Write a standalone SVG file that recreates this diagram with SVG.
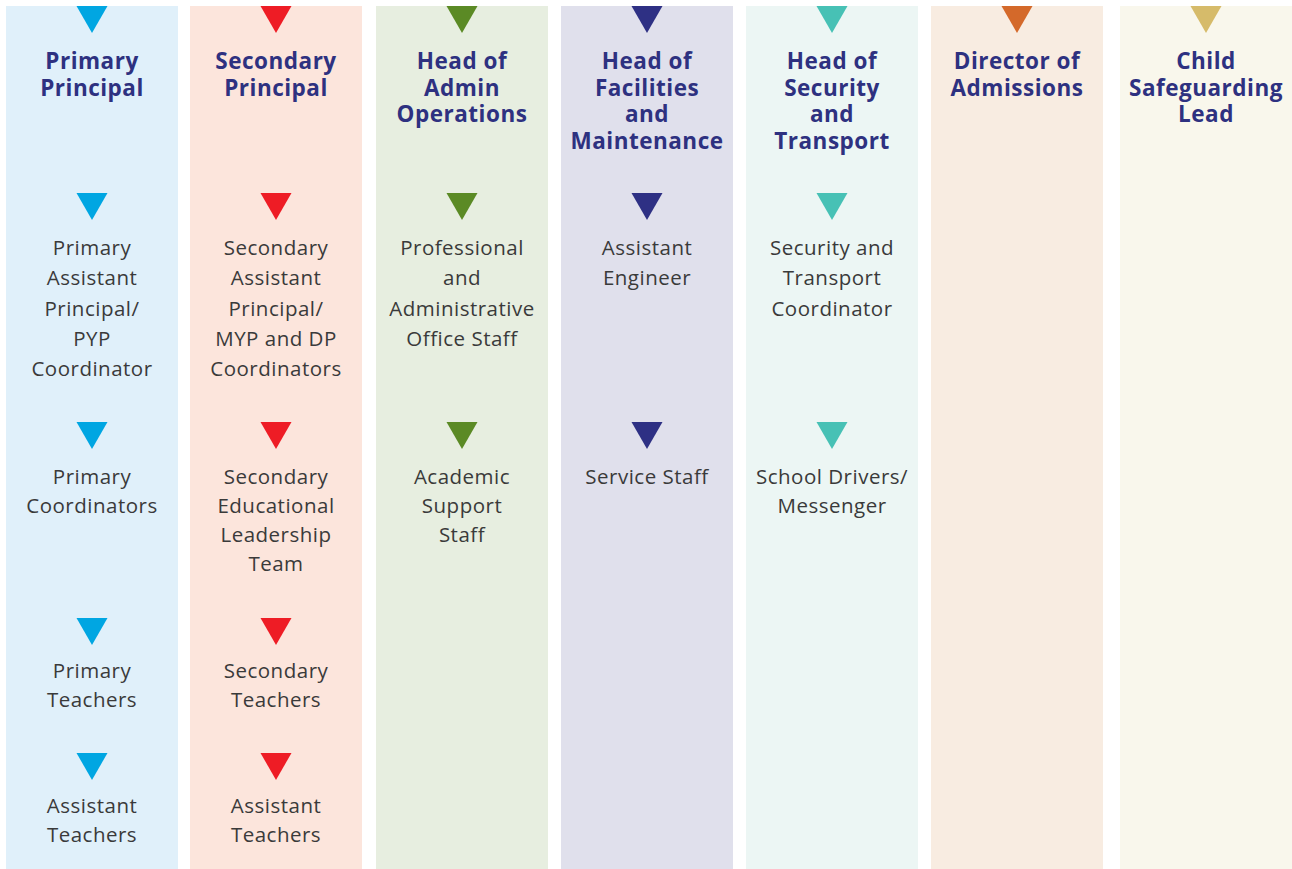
<svg xmlns="http://www.w3.org/2000/svg" width="1292" height="869" viewBox="0 0 1292 869">
<defs>
<style>
.h{font-family:"Open Sans","Liberation Sans",sans-serif;font-weight:700;font-size:22.5px;fill:#2e3180;text-anchor:middle;letter-spacing:0.5px}
.t{font-family:"Open Sans","Liberation Sans",sans-serif;font-weight:400;font-size:20.5px;fill:#3a3a3a;text-anchor:middle;letter-spacing:0.5px}
</style>
<path id="tri" d="M-15.5,0 L15.5,0 L0,27 Z"/>
</defs>
<rect width="1292" height="869" fill="#ffffff"/>
<g id="columns">
<rect x="6" y="6" width="172" height="863" fill="#e0f0fa"/>
<rect x="190" y="6" width="172" height="863" fill="#fce5dc"/>
<rect x="376" y="6" width="172" height="863" fill="#e7eee0"/>
<rect x="561" y="6" width="172" height="863" fill="#e0e0ec"/>
<rect x="746" y="6" width="172" height="863" fill="#ecf6f4"/>
<rect x="931" y="6" width="172" height="863" fill="#f8ece1"/>
<rect x="1120" y="6" width="172" height="863" fill="#f9f7ec"/>
</g>
<g id="connectors">
<g fill="#00a6e2">
<use href="#tri" x="92" y="6"/><use href="#tri" x="92" y="193"/><use href="#tri" x="92" y="422"/><use href="#tri" x="92" y="618"/><use href="#tri" x="92" y="753"/>
</g>
<g fill="#ee1c25">
<use href="#tri" x="276" y="6"/><use href="#tri" x="276" y="193"/><use href="#tri" x="276" y="422"/><use href="#tri" x="276" y="618"/><use href="#tri" x="276" y="753"/>
</g>
<g fill="#5b8a25">
<use href="#tri" x="462" y="6"/><use href="#tri" x="462" y="193"/><use href="#tri" x="462" y="422"/>
</g>
<g fill="#2e3084">
<use href="#tri" x="647" y="6"/><use href="#tri" x="647" y="193"/><use href="#tri" x="647" y="422"/>
</g>
<g fill="#47c1b5">
<use href="#tri" x="832" y="6"/><use href="#tri" x="832" y="193"/><use href="#tri" x="832" y="422"/>
</g>
<g fill="#d4692a"><use href="#tri" x="1017" y="6"/></g>
<g fill="#d6bb6a"><use href="#tri" x="1206" y="6"/></g>
</g>
<g id="primary-principal"><text class="h" x="92" y="69">Primary<tspan x="92" dy="26.5">Principal</tspan></text></g>
<g id="secondary-principal"><text class="h" x="276" y="69">Secondary<tspan x="276" dy="26.5">Principal</tspan></text></g>
<g id="head-admin"><text class="h" x="462" y="69">Head of<tspan x="462" dy="26.5">Admin</tspan><tspan x="462" dy="26.5">Operations</tspan></text></g>
<g id="head-facilities"><text class="h" x="647" y="69">Head of<tspan x="647" dy="26.5">Facilities</tspan><tspan x="647" dy="26.5">and</tspan><tspan x="647" dy="26.5">Maintenance</tspan></text></g>
<g id="head-security"><text class="h" x="832" y="69">Head of<tspan x="832" dy="26.5">Security</tspan><tspan x="832" dy="26.5">and</tspan><tspan x="832" dy="26.5">Transport</tspan></text></g>
<g id="director-admissions"><text class="h" x="1017" y="69">Director of<tspan x="1017" dy="26.5">Admissions</tspan></text></g>
<g id="child-safeguarding"><text class="h" x="1206" y="69">Child<tspan x="1206" dy="26.5">Safeguarding</tspan><tspan x="1206" dy="26.5">Lead</tspan></text></g>

<g id="primary-ap"><text class="t" x="92" y="255">Primary</text><text class="t" x="92" y="285.3">Assistant</text><text class="t" x="92" y="315.6">Principal/</text><text class="t" x="92" y="345.9">PYP</text><text class="t" x="92" y="376.2">Coordinator</text></g>
<g id="secondary-ap"><text class="t" x="276" y="255">Secondary</text><text class="t" x="276" y="285.3">Assistant</text><text class="t" x="276" y="315.6">Principal/</text><text class="t" x="276" y="345.9">MYP and DP</text><text class="t" x="276" y="376.2">Coordinators</text></g>
<g id="office-staff"><text class="t" x="462" y="255">Professional</text><text class="t" x="462" y="285.3">and</text><text class="t" x="462" y="315.6">Administrative</text><text class="t" x="462" y="345.9">Office Staff</text></g>
<g id="assistant-engineer"><text class="t" x="647" y="255">Assistant</text><text class="t" x="647" y="285.3">Engineer</text></g>
<g id="security-coordinator"><text class="t" x="832" y="255">Security and</text><text class="t" x="832" y="285.3">Transport</text><text class="t" x="832" y="315.6">Coordinator</text></g>

<g id="primary-coordinators"><text class="t" x="92" y="484">Primary</text><text class="t" x="92" y="513">Coordinators</text></g>
<g id="secondary-elt"><text class="t" x="276" y="484">Secondary</text><text class="t" x="276" y="513">Educational</text><text class="t" x="276" y="542">Leadership</text><text class="t" x="276" y="571">Team</text></g>
<g id="academic-support"><text class="t" x="462" y="484">Academic</text><text class="t" x="462" y="513">Support</text><text class="t" x="462" y="542">Staff</text></g>
<g id="service-staff"><text class="t" x="647" y="484">Service Staff</text></g>
<g id="drivers"><text class="t" x="832" y="484">School Drivers/</text><text class="t" x="832" y="513">Messenger</text></g>

<g id="primary-teachers"><text class="t" x="92" y="678">Primary</text><text class="t" x="92" y="707">Teachers</text></g>
<g id="secondary-teachers"><text class="t" x="276" y="678">Secondary</text><text class="t" x="276" y="707">Teachers</text></g>
<g id="primary-assistant-teachers"><text class="t" x="92" y="813">Assistant</text><text class="t" x="92" y="842">Teachers</text></g>
<g id="secondary-assistant-teachers"><text class="t" x="276" y="813">Assistant</text><text class="t" x="276" y="842">Teachers</text></g>
</svg>
